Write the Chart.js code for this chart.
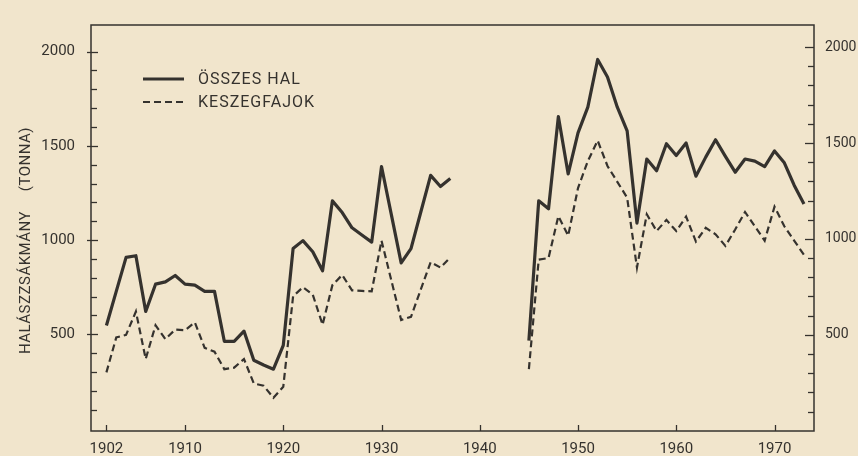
<!DOCTYPE html>
<html><head><meta charset="utf-8">
<script src="https://cdn.jsdelivr.net/npm/chart.js@4.4.1/dist/chart.umd.min.js"></script>
<style>
html,body{margin:0;padding:0;background:#f1e5cc;}
#wrap{width:858px;height:456px;position:relative;background:#f1e5cc;}
</style>
</head><body>
<div id="wrap"><canvas id="c"></canvas></div>
<script>
// ---- data ----
const yearsEarly = [1902,1903,1904,1905,1906,1907,1908,1909,1910,1911,1912,1913,1914,1915,1916,1917,1918,1919,1920,
  1921,1922,1923,1924,1925,1926,1927,1928,1929,1930,1931,1932,1933,1934,1935,1936,1937];
const totalEarly = [547,728,908,917,621,766,778,812,766,761,728,728,463,463,517,362,337,315,441,
  955,997,938,837,1208,1146,1065,1027,989,1390,1135,879,955,1149,1343,1284,1326];
const breamEarly = [298,483,497,621,369,548,475,525,522,563,428,408,315,323,369,239,227,163,222,
  702,750,711,551,761,815,733,730,728,997,786,576,593,738,883,854,908];

const yearsLate = [1945,1946,1947,1948,1949,1950,1951,1952,1953,1954,1955,1956,1957,1958,1959,
  1960,1961,1962,1963,1964,1965,1966,1967,1968,1969,1970,1971,1972,1973];
const totalLate = [467,1208,1166,1655,1351,1569,1705,1958,1865,1705,1579,1090,1430,1368,1511,
  1449,1515,1339,1440,1532,1444,1360,1430,1419,1390,1473,1410,1291,1191];
const breamLate = [315,896,905,1127,1023,1276,1419,1528,1393,1309,1225,854,1137,1048,1107,
  1048,1124,992,1065,1031,969,1056,1149,1073,997,1177,1073,997,922];

const seriesNames = ['ÖSSZES HAL', 'KESZEGFAJOK'];
const xTickYears = [1902,1910,1920,1930,1940,1950,1960,1970];
const yTickValues = [100,200,300,400,500,600,700,800,900,1000,1100,1200,1300,1400,1500,1600,1700,1800,1900,2000];
const yLabelValues = [500,1000,1500,2000];
const yTitleMain = 'HALÁSZZSÁKMÁNY';
const yTitleUnit = '(TONNA)';

// ---- build points (null point breaks the line between the two periods) ----
function buildPoints(ya, va, yb, vb){
  const pts = ya.map((y,i)=>({x:y, y:va[i]}));
  pts.push({x:(ya[ya.length-1]+yb[0])/2, y:null});
  return pts.concat(yb.map((y,i)=>({x:y, y:vb[i]})));
}

const ink = '#35322e';
const FONT = 'Roboto, "DejaVu Sans", sans-serif';

const decorPlugin = {
  id:'decor',
  afterDraw(chart){
    const {ctx, chartArea:a, scales} = chart;
    ctx.save();
    ctx.strokeStyle = ink;
    ctx.lineWidth = 1.5;
    ctx.strokeRect(a.left, a.top, a.right - a.left, a.bottom - a.top);
    ctx.lineWidth = 1.3;
    scales.y.ticks.forEach(t=>{
      const p = Math.round(scales.y.getPixelForValue(t.value)) + 0.5;
      const major = yLabelValues.includes(t.value);
      ctx.beginPath(); ctx.moveTo(a.left - (major?4:0), p); ctx.lineTo(a.left + (major?7:6), p); ctx.stroke();
    });
    scales.y2.ticks.forEach(t=>{
      const p = Math.round(scales.y2.getPixelForValue(t.value)) + 0.5;
      const major = yLabelValues.includes(t.value);
      ctx.beginPath(); ctx.moveTo(a.right - (major?9:6), p); ctx.lineTo(a.right, p); ctx.stroke();
    });
    scales.x.ticks.forEach(t=>{
      const p = Math.round(scales.x.getPixelForValue(t.value)) + 0.5;
      ctx.beginPath(); ctx.moveTo(p, a.bottom); ctx.lineTo(p, a.bottom - 6); ctx.stroke();
    });

    // legend
    ctx.fillStyle = ink;
    ctx.font = '16px ' + FONT;
    ctx.textBaseline = 'middle';
    ctx.textAlign = 'left';
    try { ctx.letterSpacing = '1px'; } catch(e) {}
    const legY = [79, 102];
    chart.data.datasets.forEach((ds, i)=>{
      ctx.save();
      ctx.strokeStyle = ds.borderColor;
      ctx.lineWidth = ds.borderWidth;
      ctx.setLineDash(ds.borderDash || []);
      ctx.beginPath(); ctx.moveTo(143, legY[i]); ctx.lineTo(184, legY[i]); ctx.stroke();
      ctx.restore();
      ctx.fillText(ds.label, 198, legY[i] + 1);
    });

    // y axis title (rotated)
    ctx.font = '15px ' + FONT;
    try { ctx.letterSpacing = '0.5px'; } catch(e) {}
    ctx.translate(26, 354);
    ctx.rotate(-Math.PI/2);
    ctx.textAlign = 'left';
    ctx.fillText(yTitleMain, 0, 0);
    ctx.textAlign = 'right';
    ctx.fillText(yTitleUnit, 227, 0);
    ctx.restore();
  }
};

new Chart(document.getElementById('c'), {
  type:'line',
  data:{
    datasets:[
      { label: seriesNames[0], data: buildPoints(yearsEarly, totalEarly, yearsLate, totalLate),
        borderColor: ink, borderWidth: 3.2, pointRadius: 0, tension: 0, spanGaps: false,
        borderJoinStyle: 'round', borderCapStyle: 'butt', yAxisID: 'y' },
      { label: seriesNames[1], data: buildPoints(yearsEarly, breamEarly, yearsLate, breamLate),
        borderColor: ink, borderWidth: 2.2, borderDash: [7,4], pointRadius: 0, tension: 0, spanGaps: false,
        borderJoinStyle: 'miter', yAxisID: 'y' }
    ]
  },
  options:{
    responsive:true, maintainAspectRatio:false, animation:false,
    devicePixelRatio: 1,
    layout:{ padding:{ top:12, left:0, right:0, bottom:0 } },
    plugins:{ legend:{display:false}, tooltip:{enabled:false}, title:{display:false} },
    scales:{
      x:{
        type:'linear', min:1900.43, max:1974.02,
        afterBuildTicks: s => { s.ticks = xTickYears.map(v=>({value:v})); },
        afterFit: s => { s.height = 23; },
        grid:{ display:true, drawOnChartArea:false, drawTicks:false },
        border:{ display:false },
        ticks:{ autoSkip:false, maxRotation:0, padding:9.5, color: ink,
          font:{ family: FONT, size:15 }, callback: v => String(v) }
      },
      y:{
        type:'linear', position:'left', min:-13, max:2141,
        afterBuildTicks: s => { s.ticks = yTickValues.map(v=>({value:v})); },
        afterFit: s => { s.width = 91; },
        grid:{ display:true, drawOnChartArea:false, drawTicks:false },
        border:{ display:false },
        ticks:{ autoSkip:false, padding:16, color: ink, font:{ family: FONT, size:15 },
          callback: v => yLabelValues.includes(v) ? String(v) : '' }
      },
      y2:{
        type:'linear', position:'right', min:-1, max:2115,
        afterBuildTicks: s => { s.ticks = yTickValues.map(v=>({value:v})); },
        afterFit: s => { s.width = 44; },
        grid:{ display:true, drawOnChartArea:false, drawTicks:false },
        border:{ display:false },
        ticks:{ autoSkip:false, padding:11, color: ink, font:{ family: FONT, size:14 },
          callback: v => yLabelValues.includes(v) ? String(v) : '' }
      }
    }
  },
  plugins:[decorPlugin]
});
</script>
</body></html>
